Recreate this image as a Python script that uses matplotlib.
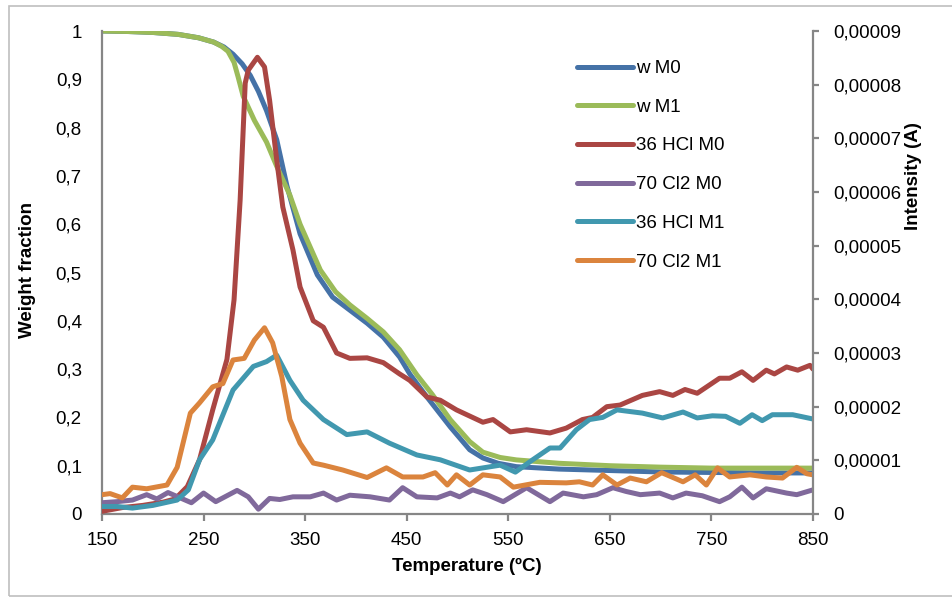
import matplotlib.pyplot as plt
from matplotlib.patches import Rectangle

plt.rcParams['font.family'] = ['Liberation Sans', 'DejaVu Sans']

# weight fraction (left axis)
w_m0_t = [150, 175, 200, 225, 245, 260, 270, 279, 288, 296, 304, 312, 322, 332, 345, 362,
          377, 394, 411, 427, 443, 453, 470, 493, 512, 525, 540, 558, 600, 650, 700, 750,
          800, 850]
w_m0 = [1.0, 0.999, 0.997, 0.993, 0.986, 0.977, 0.967, 0.952, 0.932, 0.908, 0.875, 0.835,
        0.775, 0.68, 0.58, 0.495, 0.449, 0.422, 0.395, 0.366, 0.325, 0.29, 0.242, 0.18,
        0.133, 0.116, 0.105, 0.098, 0.093, 0.09, 0.087, 0.086, 0.085, 0.085]

w_m1_t = [150, 175, 200, 225, 245, 260, 268, 274, 280, 284, 289, 300, 312, 322, 335, 345,
          365, 380, 394, 411, 427, 443, 460, 475, 493, 512, 525, 542, 558, 600, 650, 700,
          750, 800, 850]
w_m1 = [1.0, 0.999, 0.997, 0.993, 0.986, 0.977, 0.968, 0.958, 0.935, 0.905, 0.865, 0.815,
        0.77, 0.72, 0.66, 0.60, 0.505, 0.46, 0.433, 0.405, 0.377, 0.34, 0.288, 0.248,
        0.195, 0.15, 0.128, 0.117, 0.112, 0.105, 0.10, 0.097, 0.095, 0.095, 0.095]

# ion current, in 1e-5 A (right axis)
hcl_m0_t = [150, 170, 190, 210, 222, 234, 246, 259, 273, 280, 286, 291, 294, 303, 310, 315,
            322, 328, 338, 345, 358, 368, 381, 394, 411, 427, 443, 453, 470, 483, 499, 525,
            535, 552, 568, 591, 607, 623, 633, 647, 660, 682, 699, 712, 724, 736, 758, 768,
            780, 791, 804, 812, 824, 835, 847, 850]
hcl_m0 = [0.05, 0.12, 0.16, 0.22, 0.28, 0.51, 1.01, 1.94, 2.88, 3.99, 5.85, 8.03, 8.27,
          8.51, 8.33, 7.71, 6.60, 5.72, 4.92, 4.23, 3.60, 3.48, 3.00, 2.90, 2.91, 2.82,
          2.61, 2.49, 2.18, 2.12, 1.94, 1.71, 1.76, 1.53, 1.57, 1.51, 1.60, 1.76, 1.80,
          2.00, 2.03, 2.21, 2.28, 2.21, 2.32, 2.25, 2.53, 2.53, 2.65, 2.49, 2.68, 2.61,
          2.74, 2.68, 2.77, 2.70]

cl2_m0_t = [150, 165, 180, 194, 204, 215, 227, 238, 250, 262, 283, 294, 304, 315, 325, 338,
            355, 368, 381, 394, 414, 433, 446, 460, 480, 493, 502, 515, 529, 545, 568, 591,
            604, 624, 637, 653, 666, 680, 699, 712, 725, 741, 758, 768, 780, 791, 804, 824,
            834, 850]
cl2_m0 = [0.21, 0.23, 0.26, 0.36, 0.28, 0.40, 0.30, 0.21, 0.39, 0.23, 0.44, 0.32, 0.09,
          0.29, 0.27, 0.32, 0.32, 0.39, 0.26, 0.35, 0.32, 0.26, 0.49, 0.32, 0.30, 0.39,
          0.32, 0.45, 0.36, 0.23, 0.49, 0.23, 0.39, 0.32, 0.36, 0.49, 0.42, 0.36, 0.39,
          0.30, 0.39, 0.34, 0.23, 0.32, 0.50, 0.30, 0.47, 0.39, 0.36, 0.45]

hcl_m1_t = [150, 165, 180, 200, 224, 235, 246, 259, 279, 299, 312, 322, 335, 348, 368, 391,
            411, 433, 460, 483, 512, 542, 557, 574, 591, 601, 617, 630, 643, 657, 682, 702,
            722, 736, 751, 764, 778, 790, 800, 810, 830, 850]
hcl_m1 = [0.14, 0.14, 0.11, 0.16, 0.26, 0.45, 1.01, 1.38, 2.31, 2.75, 2.84, 2.96, 2.49,
          2.12, 1.76, 1.48, 1.53, 1.32, 1.10, 1.01, 0.82, 0.91, 0.78, 1.01, 1.23, 1.23,
          1.57, 1.76, 1.80, 1.94, 1.88, 1.79, 1.90, 1.79, 1.83, 1.82, 1.69, 1.85, 1.74,
          1.85, 1.85, 1.77]

cl2_m1_t = [150, 158, 170, 180, 194, 214, 224, 237, 246, 259, 269, 279, 290, 300, 310, 318,
            327, 335, 345, 358, 368, 387, 411, 430, 446, 466, 478, 490, 499, 512, 525, 542,
            555, 581, 607, 620, 633, 643, 657, 670, 686, 701, 722, 734, 745, 756, 768, 788,
            804, 820, 834, 844, 850]
cl2_m1 = [0.36, 0.38, 0.30, 0.50, 0.47, 0.54, 0.87, 1.88, 2.07, 2.37, 2.43, 2.87, 2.90,
          3.24, 3.47, 3.19, 2.56, 1.76, 1.32, 0.95, 0.91, 0.82, 0.68, 0.86, 0.69, 0.69,
          0.77, 0.54, 0.73, 0.54, 0.73, 0.69, 0.50, 0.59, 0.58, 0.60, 0.54, 0.73, 0.54,
          0.67, 0.60, 0.77, 0.60, 0.73, 0.54, 0.86, 0.69, 0.73, 0.69, 0.67, 0.87, 0.75,
          0.73]

x_ticks = [150, 250, 350, 450, 550, 650, 750, 850]
left_ticks = [0, 0.1, 0.2, 0.3, 0.4, 0.5, 0.6, 0.7, 0.8, 0.9, 1.0]
left_labels = ['0', '0,1', '0,2', '0,3', '0,4', '0,5', '0,6', '0,7', '0,8', '0,9', '1']
right_ticks = [0, 1e-5, 2e-5, 3e-5, 4e-5, 5e-5, 6e-5, 7e-5, 8e-5, 9e-5]
right_labels = ['0', '0,00001', '0,00002', '0,00003', '0,00004', '0,00005',
                '0,00006', '0,00007', '0,00008', '0,00009']

fs = 13.5
lw = 3.6
gray = '#868686'

fig = plt.figure(figsize=(9.52, 5.97), dpi=100)
fig.patches.append(Rectangle((9 / 952, 1 / 597), 1.0, 590 / 597, transform=fig.transFigure,
                             fill=False, edgecolor='#BFBFBF', lw=1.2))
ax = fig.add_axes([102 / 952, 1 - 514 / 597, 711 / 952, 483 / 597])
ax2 = ax.twinx()

l1, = ax.plot(w_m0_t, w_m0, color='#4572A7', lw=lw, label='w M0')
l2, = ax.plot(w_m1_t, w_m1, color='#9BBB59', lw=lw, label='w M1')
s = 1e-5
l3, = ax2.plot(hcl_m0_t, [v * s for v in hcl_m0], color='#AA4643', lw=lw, label='36 HCl M0')
l4, = ax2.plot(cl2_m0_t, [v * s for v in cl2_m0], color='#80699B', lw=lw, label='70 Cl2 M0')
l5, = ax2.plot(hcl_m1_t, [v * s for v in hcl_m1], color='#4198AF', lw=lw, label='36 HCl M1')
l6, = ax2.plot(cl2_m1_t, [v * s for v in cl2_m1], color='#DB843D', lw=lw, label='70 Cl2 M1')
for l in (l1, l2, l3, l4, l5, l6):
    l.set_solid_capstyle('round')
    l.set_solid_joinstyle('round')

ax.set_xlim(150, 850)
ax.set_ylim(0, 1)
ax2.set_ylim(0, 9e-5)

ax.set_xticks(x_ticks)
ax.set_xticklabels([str(t) for t in x_ticks], fontsize=fs)
ax.set_yticks(left_ticks)
ax.set_yticklabels(left_labels, fontsize=fs)
ax2.set_yticks(right_ticks)
ax2.set_yticklabels(right_labels, fontsize=fs)

for a in (ax, ax2):
    for side in ('top', 'left', 'right', 'bottom'):
        a.spines[side].set_visible(False)
ax.spines['left'].set_visible(True)
ax.spines['bottom'].set_visible(True)
ax2.spines['right'].set_visible(True)
for sp in (ax.spines['left'], ax.spines['bottom'], ax2.spines['right']):
    sp.set_color(gray)
    sp.set_linewidth(1.6)

ax.tick_params(axis='y', length=0, pad=14.5, colors='black')
ax.tick_params(axis='x', length=5, width=1.6, color=gray, direction='out', pad=8)
ax2.tick_params(axis='y', length=4, width=1.6, color=gray, direction='out', pad=10.5)

ax.set_xlabel('Temperature (ºC)', fontsize=fs, fontweight='bold')
ax.set_ylabel('Weight fraction', fontsize=fs, fontweight='bold')
ax2.set_ylabel('Intensity (A)', fontsize=fs, fontweight='bold')
ax.xaxis.set_label_coords(0.513, -0.09)
ax.yaxis.set_label_coords(-0.093, 0.505)
ax2.yaxis.set_label_coords(1.13, 0.70)

fig.legend(handles=[l1, l2, l3, l4, l5, l6], loc='upper left',
           bbox_to_anchor=(577 / 952, 1 - 60 / 597), frameon=False, fontsize=fs,
           handlelength=3.0, handletextpad=0.15, labelspacing=1.15,
           borderpad=0, borderaxespad=0)

fig.savefig('out.png', dpi=100, facecolor='white')
